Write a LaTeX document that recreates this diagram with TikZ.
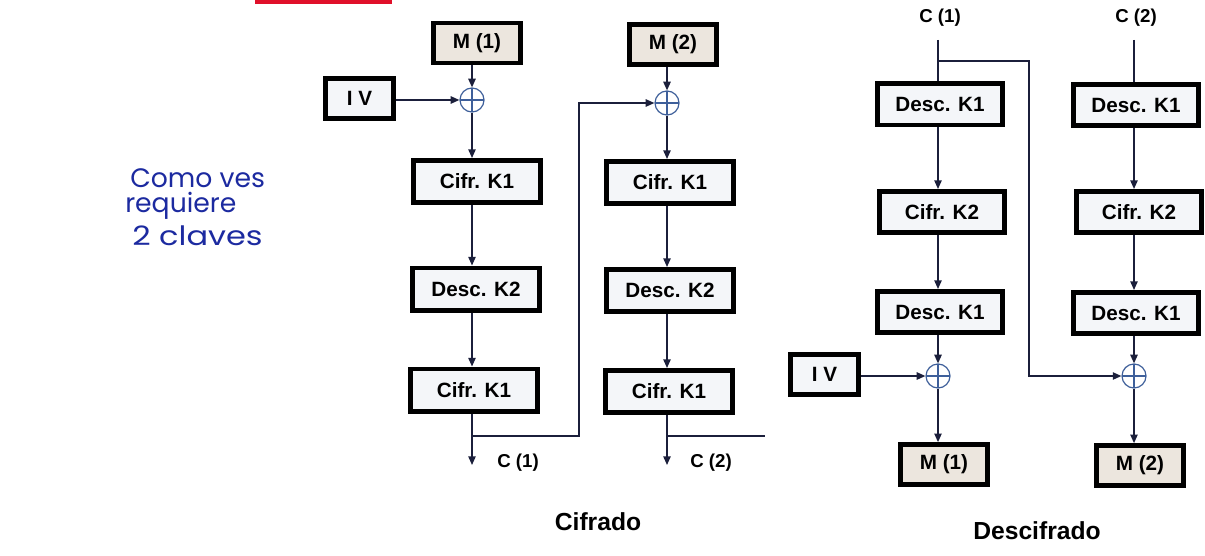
\documentclass[tikz,border=0pt]{standalone}
\usepackage{fontspec}
\setmainfont{Liberation Sans}
\newfontfamily\handfont{Poppins}
\usetikzlibrary{arrows.meta}
\definecolor{linec}{HTML}{1B1F3B}
\definecolor{xorc}{HTML}{3E5F9A}
\definecolor{mfill}{HTML}{ECE6DE}
\definecolor{bfill}{HTML}{F4F6F9}
\definecolor{inkblue}{HTML}{1C2AA0}
\definecolor{redmark}{HTML}{E0102A}
\tikzset{
  boxbase/.style={draw=black, line width=3.5pt, inner sep=0pt,
    font=\fontsize{15.5}{18}\selectfont\bfseries},
  encbox/.style={boxbase, fill=bfill, minimum width=95.5pt, minimum height=31.75pt},
  decbox/.style={boxbase, fill=bfill, minimum width=94pt, minimum height=31pt},
  mbox/.style={boxbase, fill=mfill, minimum width=65pt, minimum height=30pt},
  ivbox/.style={boxbase, fill=bfill, minimum width=51.25pt, minimum height=30.25pt},
  xornode/.style={circle, draw=xorc, line width=0.9pt, minimum size=18pt, inner sep=0pt,
    path picture={\draw[xorc, line width=0.9pt]
      (path picture bounding box.north) -- (path picture bounding box.south)
      (path picture bounding box.west) -- (path picture bounding box.east);}},
  conn/.style={draw=linec, line width=1.1pt},
  arr/.style={conn, -{Triangle[length=6.5pt,width=5.5pt]}},
  clabel/.style={font=\fontsize{14}{16}\selectfont\bfseries, inner sep=0pt},
  title/.style={font=\fontsize{18.5}{22}\selectfont\bfseries, inner sep=0pt},
  hand/.style={font=\handfont\fontsize{20}{22}\selectfont, text=inkblue, inner sep=0pt, anchor=west}
}
\begin{document}
\begin{tikzpicture}[x=0.75pt,y=-0.75pt]
\useasboundingbox (0,0) rectangle (1205,556);
\fill[white] (0,0) rectangle (1205,556);
\fill[redmark] (255,0) rectangle (392,4);

% handwritten note
\node[hand] (n1) at (130,178) {Como ves};
\node[hand] (n2) at (125,206) {requiere};
\node[hand, xscale=1.2] (n3) at (132,236) {2 claves};

% ---------- Cifrado ----------
\node[mbox] (m1e) at (477,43) {M (1)};
\node[ivbox] (iv1) at (359.5,98.5) {I V};
\node[xornode] (xor1) at (472,100) {};
\node[encbox] (c1a) at (477,181.5) {Cifr. K1};
\node[encbox] (d1) at (476,289) {Desc. K2};
\node[encbox] (c1b) at (474,390) {Cifr. K1};

\node[mbox] (m2e) at (673,44.5) {M (2)};
\node[xornode] (xor2) at (667,103) {};
\node[encbox] (c2a) at (670,182.5) {Cifr. K1};
\node[encbox] (d2) at (670,290.5) {Desc. K2};
\node[encbox] (c2b) at (669,391.5) {Cifr. K1};

\coordinate (o1) at (472,465);
\coordinate (o2) at (667,465);
\coordinate (b1) at (472,436);
\coordinate (k1) at (579,436);
\coordinate (b2) at (667,436);
\coordinate (e2) at (765,436);

\draw[arr] (m1e.south -| xor1) -- (xor1.north);
\draw[arr] (iv1.east |- xor1) -- (xor1.west);
\draw[arr] (xor1.south) -- (xor1 |- c1a.north);
\draw[arr] (c1a.south -| xor1) -- (xor1 |- d1.north);
\draw[arr] (d1.south -| xor1) -- (xor1 |- c1b.north);
\draw[arr] (c1b.south -| xor1) -- (o1);
\draw[arr] (b1) -- (k1) |- (xor2.west);

\draw[arr] (m2e.south -| xor2) -- (xor2.north);
\draw[arr] (xor2.south) -- (xor2 |- c2a.north);
\draw[arr] (c2a.south -| xor2) -- (xor2 |- d2.north);
\draw[arr] (d2.south -| xor2) -- (xor2 |- c2b.north);
\draw[arr] (c2b.south -| xor2) -- (o2);
\draw[conn] (b2) -- (e2);

\node[clabel, anchor=west] (lc1) at (497,463) {C (1)};
\node[clabel, anchor=west] (lc2) at (690,463) {C (2)};
\node[title] (tc) at (598,522) {Cifrado};

% ---------- Descifrado ----------
\node[clabel] (dc1) at (940,18) {C (1)};
\node[clabel] (dc2) at (1136,18) {C (2)};

\node[decbox] (dk1a) at (940,104.5) {Desc. K1};
\node[decbox] (ck2a) at (942,212) {Cifr. K2};
\node[decbox] (dk1b) at (940,312) {Desc. K1};
\node[xornode] (xor3) at (938,376) {};
\node[ivbox] (iv2) at (824.5,374.5) {I V};
\node[mbox] (m1d) at (944,464.5) {M (1)};

\node[decbox] (dk1c) at (1136,105) {Desc. K1};
\node[decbox] (ck2b) at (1139,212) {Cifr. K2};
\node[decbox] (dk1d) at (1136,313) {Desc. K1};
\node[xornode] (xor4) at (1134,376) {};
\node[mbox] (m2d) at (1140,465.5) {M (2)};

\coordinate (t1) at (938,40);
\coordinate (t2) at (1134,40);
\coordinate (db) at (938,61);
\coordinate (dk) at (1029,61);

\draw[conn] (t1) -- (t1 |- dk1a.north);
\draw[arr] (dk1a.south -| xor3) -- (xor3 |- ck2a.north);
\draw[arr] (ck2a.south -| xor3) -- (xor3 |- dk1b.north);
\draw[arr] (dk1b.south -| xor3) -- (xor3.north);
\draw[arr] (iv2.east |- xor3) -- (xor3.west);
\draw[arr] (xor3.south) -- (xor3 |- m1d.north);

\draw[conn] (t2) -- (t2 |- dk1c.north);
\draw[arr] (dk1c.south -| xor4) -- (xor4 |- ck2b.north);
\draw[arr] (ck2b.south -| xor4) -- (xor4 |- dk1d.north);
\draw[arr] (dk1d.south -| xor4) -- (xor4.north);
\draw[arr] (db) -- (dk) |- (xor4.west);
\draw[arr] (xor4.south) -- (xor4 |- m2d.north);

\node[title] (td) at (1037,531) {Descifrado};
\end{tikzpicture}
\end{document}
